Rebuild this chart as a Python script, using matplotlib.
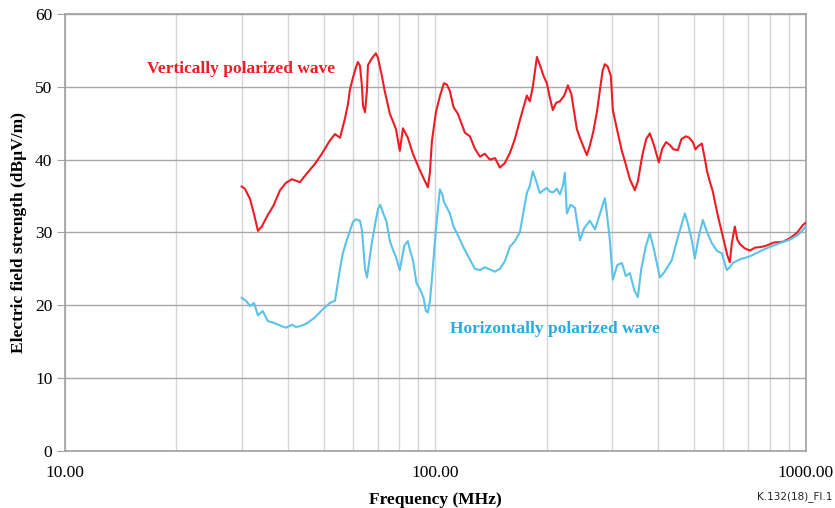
import matplotlib
matplotlib.use("Agg")
import matplotlib.pyplot as plt
from matplotlib.ticker import NullFormatter, FixedLocator

# frequency (MHz) / field strength (dBuV/m)
vert_freq = [30.0, 30.6, 31.6, 32.4, 33.2, 34.0, 35.3, 36.5, 38.1, 39.5, 41.0, 42.0, 43.1, 45.0, 47.3,
             49.4, 51.9, 53.6, 55.3, 57.0, 58.1, 58.8, 59.9, 61.0, 61.8, 62.6, 63.4, 63.8, 64.6, 65.4,
             65.8, 67.4, 69.1, 70.0, 71.8, 73.1, 75.4, 78.3, 80.2, 81.8, 84.3, 87.0, 90.9, 94.3, 95.5,
             96.7, 97.9, 100.4, 102.9, 105.5, 107.5, 109.5, 112, 115.1, 120.2, 124, 127.9, 132.0, 136,
             140.4, 145, 149.4, 154, 159.0, 164, 169.2, 176.7, 180, 183.4, 188.1, 191.6, 196, 200.1,
             203.9, 207.7, 212, 217.0, 223, 228.0, 233, 241.1, 245.7, 251, 256.6, 261.4, 267, 273.1,
             278.2, 283, 287.0, 292, 297.9, 301.6, 310, 319.0, 325.0, 335.3, 345.8, 352.4, 362, 371,
             379.6, 390, 401.5, 410, 420, 429.9, 440, 451.9, 462, 474.9, 485, 496.0, 504, 511.7, 524.6,
             535, 541.2, 551, 561.8, 570, 579.4, 594.0, 605.2, 615, 624.3, 632, 644.0, 654, 664.4, 685,
             707.1, 730, 760, 785.9, 820, 867.9, 906.5, 946.7, 970, 982.6, 1000]
vert_level = [36.3, 36.0, 34.6, 32.5, 30.2, 30.8, 32.4, 33.6, 35.8, 36.8, 37.3, 37.1, 36.9, 38.1, 39.4,
              40.8, 42.6, 43.5, 43.0, 45.6, 47.6, 49.6, 51.2, 52.6, 53.4, 52.9, 50.0, 47.4, 46.5, 49.6,
              53.0, 53.9, 54.6, 54.0, 51.4, 49.3, 46.3, 44.2, 41.2, 44.3, 43.0, 40.8, 38.5, 36.8, 36.2,
              38.2, 42.5, 46.5, 48.7, 50.5, 50.3, 49.4, 47.2, 46.3, 43.7, 43.2, 41.5, 40.4, 40.8,
              40.0, 40.2, 38.9, 39.5, 40.9, 42.8, 45.4, 48.8, 48.0, 50.0, 54.1, 53.0, 51.5, 50.5,
              48.5, 46.8, 47.8, 48.0, 48.8, 50.2, 49.0, 44.2, 43.0, 41.8, 40.6, 41.9, 43.8, 46.5,
              49.5, 52.2, 53.1, 52.8, 51.5, 46.8, 44.0, 41.2, 39.8, 37.3, 35.8, 37.0, 40.5, 42.8,
              43.6, 41.9, 39.6, 41.5, 42.4, 42.0, 41.4, 41.3, 42.8, 43.2, 43.0, 42.4, 41.4, 41.8, 42.2,
              40.0, 38.5, 37.0, 35.6, 34.0, 32.3, 30.0, 28.3, 26.8, 25.9, 28.5, 30.8, 29.0, 28.4, 27.8,
              27.5, 27.9, 28.0, 28.2, 28.6, 28.7, 29.2, 29.9, 30.6, 31.0, 31.3]

horiz_freq = [30.0, 30.8, 31.6, 32.4, 33.2, 34.2, 35.3, 36.5, 38.1, 39.5, 41.0, 42.0, 43.1, 45.0, 47.3,
              49.4, 51.9, 53.6, 55.3, 56.2, 57.5, 58.8, 59.9, 61.0, 62.6, 63.4, 64.6, 65.4, 66.5, 67.4,
              69.1, 70.0, 71.0, 72.5, 73.8, 75.4, 77, 78.3, 80.2, 82.5, 84.3, 85.5, 87.0, 89, 90.9, 93,
              94.3, 95.5, 96.7, 97.9, 100.4, 102.9, 104.5, 105.5, 109.5, 112, 115.1, 119, 123, 127.9,
              132.0, 136, 140.4, 145, 149.4, 154, 159.0, 164, 169.2, 176.7, 180, 183.4, 186, 191.6, 196,
              200.1, 204, 208, 213, 217.0, 221, 223.8, 226.6, 232, 238.2, 245.7, 252, 261.4, 270, 278.2,
              287.0, 290, 296.0, 301.6, 310, 319.0, 327, 335.3, 345, 352.4, 360, 370, 379.6, 390, 404.0,
              415, 435.3, 450, 462, 472.0, 482, 492.9, 502.2, 515, 527.9, 542, 558.3, 575, 594.0, 612.8,
              624, 636.0, 665, 707.1, 760, 800.7, 850, 906.5, 950, 982.6, 1000]
horiz_level = [21.0, 20.6, 19.9, 20.3, 18.6, 19.2, 17.8, 17.6, 17.2, 16.9, 17.3, 17.0, 17.1, 17.5, 18.3,
               19.3, 20.3, 20.6, 25.0, 27.0, 28.7, 30.2, 31.4, 31.8, 31.6, 30.3, 25.0, 23.8, 26.5, 28.6,
               31.6, 33.2, 33.8, 32.5, 31.5, 28.8, 27.5, 26.6, 24.8, 28.2, 28.8, 27.5, 26.2, 23.0, 22.2, 21.0,
               19.2, 19.0, 20.5, 23.5, 30.5, 35.9, 35.2, 34.2, 32.6, 30.8, 29.6, 28.0, 26.6, 25.0,
               24.8, 25.2, 24.9, 24.6, 25.0, 26.0, 28.0, 28.8, 30.0, 35.4, 36.4, 38.4, 37.5, 35.4, 35.8,
               36.1, 35.6, 35.5, 36.0, 35.2, 36.4, 38.2, 32.6, 33.8, 33.4, 28.9, 30.5, 31.6, 30.4, 32.5,
               34.7, 33.0, 29.0, 23.5, 25.5, 25.8, 24.0, 24.4, 22.0, 21.1, 25.0, 28.0, 29.9, 27.5, 23.8,
               24.5, 26.2, 29.0, 31.0, 32.6, 31.0, 28.9, 26.4, 29.5, 31.7, 30.0, 28.5, 27.5, 27.1, 24.8,
               25.2, 25.8, 26.3, 26.7, 27.5, 28.0, 28.5, 29.0, 29.6, 30.3, 30.8]

x_ticks = [10, 100, 1000]
x_tick_labels = ["10.00", "100.00", "1000.00"]
y_ticks = [0, 10, 20, 30, 40, 50, 60]

RED = "#ee1c24"
BLUE = "#5bc2ea"
SERIF = "Liberation Serif"


def main() -> None:
    fig = plt.figure(figsize=(8.35, 5.08), dpi=100, facecolor="white")
    ax = fig.add_axes([0.0778, 0.1128, 0.887, 0.8596])

    ax.plot(vert_freq, vert_level, color=RED, linewidth=1.5, zorder=3)
    ax.plot(horiz_freq, horiz_level, color=BLUE, linewidth=1.5, zorder=3)

    ax.set_xscale("log")
    ax.set_xlim(10, 1000)
    ax.set_ylim(0, 60)

    ax.set_xticks(x_ticks)
    ax.set_xticklabels(x_tick_labels, fontfamily=SERIF, fontsize=12.5)
    ax.xaxis.set_minor_locator(FixedLocator([m * d for d in (10, 100) for m in range(2, 10)]))
    ax.xaxis.set_minor_formatter(NullFormatter())
    ax.tick_params(axis="x", which="both", length=0, pad=10)
    ax.set_yticks(y_ticks)
    ax.set_yticklabels([str(v) for v in y_ticks], fontfamily=SERIF, fontsize=12.5)
    ax.tick_params(axis="y", length=6, color="#a0a0a0", pad=3)

    ax.grid(axis="x", which="both", color="#d6d6d6", linewidth=1.0, zorder=0)
    ax.grid(axis="y", which="major", color="#a8a8a8", linewidth=1.0, zorder=1)
    for spine in ax.spines.values():
        spine.set_color("#a0a0a0")
        spine.set_linewidth(1.2)

    ax.set_xlabel("Frequency (MHz)", fontfamily=SERIF, fontsize=12.5, fontweight="bold", labelpad=8)
    ax.set_ylabel("Electric field strength (dBµV/m)", fontfamily=SERIF, fontsize=12.5,
                  fontweight="bold", labelpad=6)

    ax.text(29.9, 52.4, "Vertically polarized wave", color=RED, fontfamily=SERIF, fontsize=12.5,
            fontweight="bold", ha="center", va="center")
    ax.text(211, 16.7, "Horizontally polarized wave", color="#2aa8df", fontfamily=SERIF, fontsize=12.5,
            fontweight="bold", ha="center", va="center")
    fig.text(0.997, 0.022, "K.132(18)_FI.1", fontsize=7.5, ha="right", va="center", color="#222222")

    fig.savefig("out.png", dpi=100, facecolor="white")
    plt.close(fig)


if __name__ == "__main__":
    main()
